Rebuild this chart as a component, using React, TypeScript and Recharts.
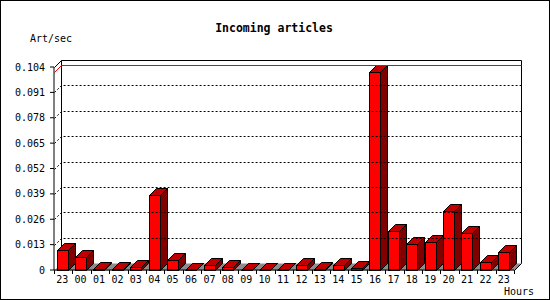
import React from 'react'
import { BarChart, Bar, XAxis, YAxis, ReferenceArea, ReferenceLine } from 'recharts'

const hours = ['23', '00', '01', '02', '03', '04', '05', '06', '07', '08', '09', '10', '11', '12', '13', '14', '15', '16', '17', '18', '19', '20', '21', '22', '23']
const artPerSec = [0.0102, 0.0065, 0.0003, 0.0007, 0.0014, 0.0383, 0.0051, 0, 0.0024, 0.0017, 0, 0, 0, 0.0024, 0.0005, 0.0024, 0.0009, 0.1012, 0.02, 0.0133, 0.0143, 0.0302, 0.0189, 0.0039, 0.0091]
const yTicks = [0, 0.013, 0.026, 0.039, 0.052, 0.065, 0.078, 0.091, 0.104]

const data = hours.map((hour, i) => ({ hour, rate: artPerSec[i] }))
const maxRate = Math.max(...artPerSec)

const W = 550
const H = 300
const MARGIN = { top: 67, right: 36, left: 0, bottom: 0 }
const Y_AXIS_W = 54
const X_AXIS_H = 30
const DEPTH = 7
const BAND = (W - MARGIN.left - MARGIN.right - Y_AXIS_W) / hours.length
const FONT = '"DejaVu Sans Mono", monospace'

// 3d box: floor and back wall behind the bars
function Frame(props: any) {
  const { x, y, width, height } = props
  const l = Math.round(x) + 0.5
  const r = Math.round(x + width) + 0.5
  const t = Math.round(y) + 0.5
  const b = Math.round(y + height) + 0.5
  return (
    <g>
      <polygon
        points={`${l},${b} ${l + DEPTH},${b - DEPTH} ${r + DEPTH},${b - DEPTH} ${r},${b}`}
        fill="#8c8c8c"
      />
      <polyline
        points={`${l + DEPTH},${b - DEPTH} ${l + DEPTH},${t - DEPTH} ${r + DEPTH},${t - DEPTH} ${r + DEPTH},${b - DEPTH} ${r},${b}`}
        fill="none"
        stroke="#000"
      />
      <line x1={l} y1={t} x2={l + DEPTH} y2={t - DEPTH} stroke="#000" />
    </g>
  )
}

function WallLine(color: string, dash?: string) {
  return (props: any) => {
    const { x1, y1, x2 } = props
    const l = Math.round(x1) + 0.5
    const r = Math.round(x2) + 0.5
    const yy = Math.round(y1) + 0.5
    return (
      <polyline
        points={`${l},${yy} ${l + DEPTH},${yy - DEPTH} ${r + DEPTH},${yy - DEPTH}`}
        fill="none"
        stroke={color}
        strokeDasharray={dash}
      />
    )
  }
}

function Bar3d(props: any) {
  const { x, y, width, height } = props
  const l = Math.round(x - 1.5) + 0.5
  const r = l + Math.round(width)
  const t = Math.round(y) + 0.5
  const b = Math.round(y + height) + 0.5
  return (
    <g stroke="#000" strokeWidth={1}>
      <polygon points={`${l},${t} ${l + DEPTH},${t - DEPTH} ${r + DEPTH},${t - DEPTH} ${r},${t}`} fill="#c00000" />
      <polygon points={`${r},${t} ${r + DEPTH},${t - DEPTH} ${r + DEPTH},${b - DEPTH} ${r},${b}`} fill="#800000" />
      {b - t > 0 && <rect x={l} y={t} width={r - l} height={b - t} fill="#ff0000" />}
    </g>
  )
}

function HourTick(props: any) {
  const { x, y, payload, index } = props
  const half = BAND / 2
  const lx = Math.round(x - half) + 0.5
  const rx = Math.round(x + half) + 0.5
  return (
    <g>
      <line x1={lx} x2={lx} y1={y} y2={y + 4} stroke="#000" />
      {index === hours.length - 1 && <line x1={rx} x2={rx} y1={y} y2={y + 4} stroke="#000" />}
      <text x={x - 1} y={y + 12.5} textAnchor="middle" fontSize={10} fontFamily={FONT} fill="#000">
        {payload.value}
      </text>
    </g>
  )
}

export default function App() {
  return (
    <div style={{ position: 'absolute', left: 0, top: 0, width: W, height: H, background: '#fff' }}>
      <BarChart width={W} height={H} data={data} margin={MARGIN} barSize={11}>
        <XAxis
          dataKey="hour"
          height={X_AXIS_H}
          interval={0}
          tickSize={0}
          tickMargin={0}
          tickLine={false}
          axisLine={{ stroke: '#000' }}
          tick={<HourTick />}
        />
        <YAxis
          width={Y_AXIS_W}
          domain={[0, 0.104]}
          ticks={yTicks}
          interval={0}
          tickSize={4}
          tickMargin={5}
          axisLine={{ stroke: '#000' }}
          tickLine={{ stroke: '#000' }}
          tick={{ fill: '#000', fontSize: 10, fontFamily: FONT }}
          tickFormatter={(v: number) => (v === 0 ? '0' : v.toFixed(3))}
        />
        <ReferenceArea y1={0} y2={0.104} shape={<Frame />} fill="none" stroke="none" />
        {yTicks.slice(1, -1).map((t) => (
          <ReferenceLine key={t} y={t} shape={WallLine('#000', '2 2')} />
        ))}
        <ReferenceLine y={maxRate} shape={WallLine('#ff0000')} />
        <Bar dataKey="rate" shape={<Bar3d />} isAnimationActive={false} />
      </BarChart>
      <svg width={W} height={H} style={{ position: 'absolute', left: 0, top: 0, pointerEvents: 'none' }}>
        <rect x={0.5} y={0.5} width={W - 1} height={H - 1} fill="none" stroke="#000" />
        <text x={274} y={32} textAnchor="middle" fontSize={11.5} fontWeight="bold" fontFamily={FONT}>
          Incoming articles
        </text>
        <text x={30} y={42} fontSize={10} fontFamily={FONT}>
          Art/sec
        </text>
        <text x={534} y={295} textAnchor="end" fontSize={10} fontFamily={FONT}>
          Hours
        </text>
      </svg>
    </div>
  )
}
